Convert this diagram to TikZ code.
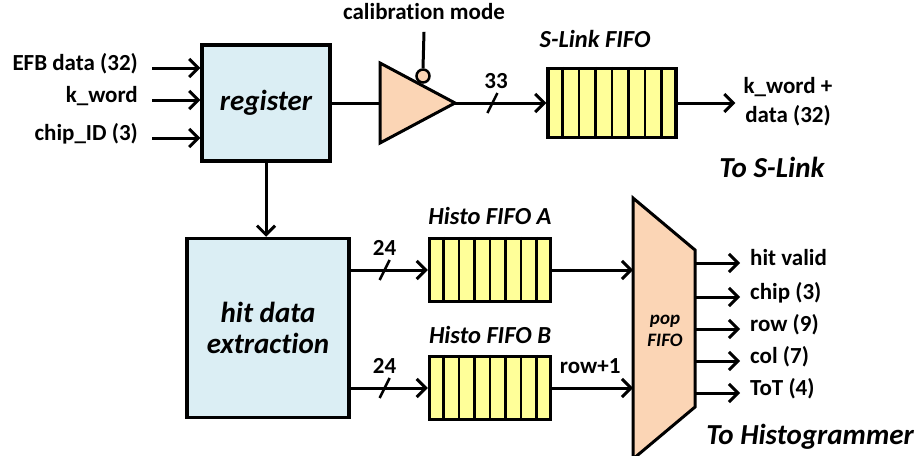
\documentclass[tikz,border=0pt]{standalone}
\usepackage{fontspec}
\setmainfont{Carlito}[Ligatures=NoCommon]
\usetikzlibrary{arrows.meta}
\usetikzlibrary{calc}
\usetikzlibrary{decorations.markings}
\definecolor{regblue}{RGB}{219,238,244}
\definecolor{bufpeach}{RGB}{251,213,181}
\definecolor{fifoyellow}{RGB}{255,255,153}
\newcommand{\lblfont}{\fontsize{23}{29}\selectfont\bfseries}
\newcommand{\namefont}{\fontsize{29}{31}\selectfont\bfseries\itshape}
\newcommand{\fifofont}{\fontsize{24.5}{28}\selectfont\bfseries\itshape}
\newcommand{\popfont}{\fontsize{19}{22}\selectfont\bfseries\itshape}
\tikzset{
    wire/.style={line width=3pt, -{Straight Barb[length=9pt, width=18pt]}},
    plainwire/.style={line width=3pt},
    bus/.style={
        decoration={markings, mark=at position #1 with {\draw[line width=2.5pt, -] (-5pt,-10pt) -- (5pt,10pt);}},
        postaction={decorate}
    },
    block/.style={draw, line width=3.5pt, fill=regblue, font=\namefont, align=center},
    fifo/.style={draw, line width=3.5pt, fill=fifoyellow},
    lbl/.style={font=\lblfont, inner sep=2pt, text height=0.72em, text depth=0.22em},
    buslbl/.style={font=\lblfont, inner sep=2pt, above=11pt}
}
\newcommand{\fifocells}[1]{
    \foreach \k in {1,...,7}
        \draw[line width=2.5pt] ($(#1.north west)!\k/8!(#1.north east)$) -- ($(#1.south west)!\k/8!(#1.south east)$);
}

\begin{document}
\begin{tikzpicture}[x=1pt, y=-1pt]

	\useasboundingbox (0,0) rectangle (915,455);
	\clip (0,0) rectangle (915,455);

	\node[block, minimum width=128pt, minimum height=116pt] (reg) at (266,103) {register};

	\node[block, minimum width=162pt, minimum height=179pt] (hde) at (268,328) {hit data\\extraction};

	\node[lbl, anchor=east] (efb) at (140,68) {EFB data (32)};
	\node[lbl, anchor=east] (kword) at (140,100) {k\_word};
	\node[lbl, anchor=east] (chip) at (140,138) {chip\_ID (3)};

	\foreach \n in {efb, kword, chip}
		\draw[wire] ([xshift=12pt]\n.east) -- (\n.east -| reg.west);

	\draw[wire] (reg.south) -- (reg.south |- hde.north);

	\coordinate (bufL) at (380,103);
	\coordinate (bufR) at (455,103);
	\filldraw[fill=bufpeach, line width=3pt] (380,63) -- (bufR) -- (380,143) -- cycle;
	\draw[plainwire] (reg.east) -- (bufL);

	\node[draw, circle, fill=bufpeach, line width=2.5pt, minimum size=13pt, inner sep=0pt] (inv) at (423,76) {};
	\node[lbl] (cal) at (424,17) {calibration mode};
	\draw[plainwire] ([yshift=-8pt]cal.south) -- (inv.north);

	\node[fifo, minimum width=128pt, minimum height=69pt] (slink) at (612,103) {};
	\fifocells{slink}
	\node[font=\fifofont] (slinkname) at (595,39) {S-Link FIFO};
	\draw[wire, bus=0.41] (bufR) -- node[buslbl, pos=0.45] {33} (slink.west);

	\node[font=\lblfont, inner sep=2pt, align=center] (kw) at (788,102) {k\_word +\\data (32)};
	\draw[wire, shorten >=6pt] (slink.east) -- (slink.east -| kw.west);
	\node[font=\namefont] (toslink) at (772,167) {To S-Link};

	\node[fifo, minimum width=121pt, minimum height=63pt] (fifoA) at (490,270) {};
	\node[fifo, minimum width=121pt, minimum height=63pt] (fifoB) at (490,388) {};
	\fifocells{fifoA}
	\fifocells{fifoB}
	\node[font=\fifofont] (nameA) at (490,216) {Histo FIFO A};
	\node[font=\fifofont] (nameB) at (490,335) {Histo FIFO B};

	\draw[wire, bus=0.44] (hde.east |- fifoA.west) -- node[buslbl, pos=0.44] {24} (fifoA.west);
	\draw[wire, bus=0.44] (hde.east |- fifoB.west) -- node[buslbl, pos=0.44] {24} (fifoB.west);

	\coordinate (popNW) at (633,198);
	\coordinate (popNE) at (695,250);
	\coordinate (popSE) at (695,407);
	\coordinate (popSW) at (633,459);
	\filldraw[fill=bufpeach, line width=3pt] (popNW) -- (popNE) -- (popSE) -- (popSW) -- cycle;
	\node[font=\popfont, align=center] (popname) at (665,331) {pop\\FIFO};

	\draw[wire] (fifoA.east) -- (fifoA.east -| popNW);
	\draw[wire] (fifoB.east) -- node[buslbl, pos=0.47] {row+1} (fifoB.east -| popNW);

	\foreach \n/\y/\t in {hv/263/hit valid, chp/297/chip (3), rw/329/row (9), cl/361/col (7), tot/393/ToT (4)} {
		\node[lbl, anchor=west] (\n) at (748,\y) {\t};
		\draw[wire, shorten >=8pt] (popNE |- \n.west) -- (\n.west);
	}

	\node[font=\namefont] (tohist) at (810,437) {To Histogrammer};

\end{tikzpicture}
\end{document}
